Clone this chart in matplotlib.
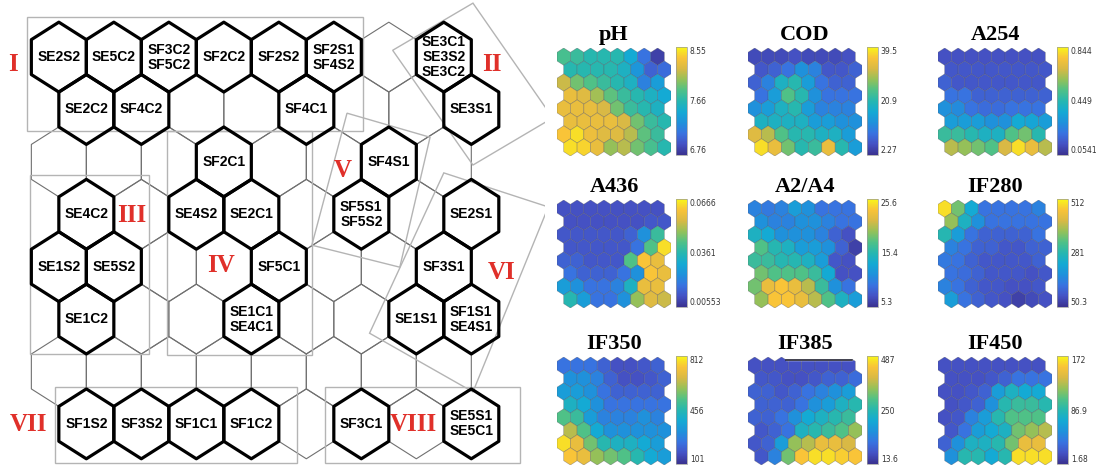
import numpy as np
import matplotlib
matplotlib.use('Agg')
import matplotlib.pyplot as plt
from matplotlib.collections import PolyCollection
from matplotlib.colors import LinearSegmentedColormap, Normalize
from matplotlib.patches import Polygon

# ---- SOM map: 8 x 8 hex grid, row 0 at the top, odd rows shifted right ----
n_rows, n_cols = 8, 8

label_rows = [0, 0, 0, 0, 0, 0, 0,
              1, 1, 1, 1,
              2, 2,
              3, 3, 3, 3, 3,
              4, 4, 4, 4,
              5, 5, 5, 5,
              7, 7, 7, 7, 7, 7]
label_cols = [0, 1, 2, 3, 4, 5, 7,
              0, 1, 4, 7,
              3, 6,
              0, 2, 3, 5, 7,
              0, 1, 4, 7,
              0, 3, 6, 7,
              0, 1, 2, 3, 5, 7]
label_texts = ['SE2S2', 'SE5C2', 'SF3C2\nSF5C2', 'SF2C2', 'SF2S2', 'SF2S1\nSF4S2',
               'SE3C1\nSE3S2\nSE3C2',
               'SE2C2', 'SF4C2', 'SF4C1', 'SE3S1',
               'SF2C1', 'SF4S1',
               'SE4C2', 'SE4S2', 'SE2C1', 'SF5S1\nSF5S2', 'SE2S1',
               'SE1S2', 'SE5S2', 'SF5C1', 'SF3S1',
               'SE1C2', 'SE1C1\nSE4C1', 'SE1S1', 'SF1S1\nSE4S1',
               'SF1S2', 'SF3S2', 'SF1C1', 'SF1C2', 'SF3C1', 'SE5S1\nSE5C1']

# cluster names and where they sit (grid units)
cluster_names = ['I', 'II', 'III', 'IV', 'V', 'VI', 'VII', 'VIII']
cluster_x = [-0.84, 7.87, 1.33, 2.95, 5.16, 8.05, -0.56, 6.44]
cluster_y = [0.15, 0.15, 3.02, 3.97, 2.16, 4.12, 7.02, 7.02]

# cluster outlines (grid units)
cluster_boxes = [
    [(-0.58, -0.76), (5.53, -0.76), (5.53, 1.41), (-0.58, 1.41)],      # I
    [(6.07, -0.13), (7.53, -1.03), (8.98, 1.16), (7.53, 2.06)],        # II
    [(-0.53, 2.25), (1.64, 2.25), (1.64, 5.67), (-0.53, 5.67)],        # III
    [(1.96, 1.41), (4.60, 1.41), (4.60, 5.69), (1.96, 5.69)],          # IV
    [(5.24, 1.07), (6.75, 1.53), (6.20, 4.01), (4.60, 3.59)],          # V
    [(7.00, 2.21), (8.90, 2.86), (7.53, 6.39), (5.65, 5.27)],          # VI
    [(-0.07, 6.30), (4.33, 6.30), (4.33, 7.75), (-0.07, 7.75)],        # VII
    [(4.84, 6.30), (8.38, 6.30), (8.38, 7.75), (4.84, 7.75)],          # VIII
]

# ---- component planes (levels read as fraction of each colour bar) ----
plane_names = ['pH', 'COD', 'A254', 'A436', 'A2/A4', 'IF280', 'IF350', 'IF385', 'IF450']
plane_min = [6.76, 2.27, 0.0541, 0.00553, 5.3, 50.3, 101, 13.6, 1.68]
plane_max = [8.55, 39.5, 0.844, 0.0666, 25.6, 512, 812, 487, 172]
plane_ticks = [['6.76', '7.66', '8.55'], ['2.27', '20.9', '39.5'],
               ['0.0541', '0.449', '0.844'], ['0.00553', '0.0361', '0.0666'],
               ['5.3', '15.4', '25.6'], ['50.3', '281', '512'],
               ['101', '456', '812'], ['13.6', '250', '487'], ['1.68', '86.9', '172']]

ph_levels = [
    [0.58, 0.55, 0.50, 0.50, 0.50, 0.40, 0.20, 0.05],
    [0.50, 0.50, 0.50, 0.50, 0.45, 0.32, 0.15, 0.18],
    [0.78, 0.65, 0.60, 0.55, 0.50, 0.45, 0.25, 0.35],
    [0.85, 0.82, 0.72, 0.62, 0.55, 0.50, 0.45, 0.40],
    [0.85, 0.85, 0.84, 0.80, 0.65, 0.55, 0.50, 0.45],
    [0.85, 0.85, 0.85, 0.85, 0.80, 0.65, 0.55, 0.50],
    [0.90, 0.95, 0.86, 0.82, 0.82, 0.75, 0.62, 0.55],
    [0.95, 0.93, 0.85, 0.70, 0.75, 0.65, 0.58, 0.50],
]
cod_levels = [
    [0.08, 0.08, 0.08, 0.10, 0.08, 0.08, 0.08, 0.10],
    [0.12, 0.15, 0.20, 0.30, 0.25, 0.12, 0.12, 0.15],
    [0.15, 0.25, 0.45, 0.50, 0.35, 0.20, 0.15, 0.15],
    [0.20, 0.35, 0.60, 0.50, 0.30, 0.20, 0.20, 0.20],
    [0.30, 0.35, 0.45, 0.50, 0.35, 0.25, 0.25, 0.25],
    [0.45, 0.45, 0.45, 0.45, 0.35, 0.35, 0.30, 0.30],
    [0.82, 0.75, 0.60, 0.50, 0.50, 0.45, 0.45, 0.35],
    [0.95, 0.85, 0.65, 0.50, 0.55, 0.85, 0.50, 0.35],
]
a254_levels = [
    [0.10, 0.10, 0.10, 0.10, 0.10, 0.10, 0.10, 0.10],
    [0.12, 0.12, 0.12, 0.12, 0.12, 0.12, 0.12, 0.12],
    [0.15, 0.12, 0.12, 0.12, 0.12, 0.12, 0.12, 0.12],
    [0.20, 0.20, 0.15, 0.15, 0.15, 0.15, 0.15, 0.15],
    [0.30, 0.28, 0.20, 0.18, 0.18, 0.20, 0.20, 0.20],
    [0.35, 0.35, 0.35, 0.30, 0.30, 0.40, 0.38, 0.35],
    [0.55, 0.55, 0.50, 0.45, 0.45, 0.60, 0.65, 0.50],
    [0.75, 0.70, 0.65, 0.60, 0.80, 0.95, 0.85, 0.75],
]
a436_levels = [
    [0.10, 0.10, 0.10, 0.10, 0.10, 0.10, 0.10, 0.10],
    [0.10, 0.10, 0.10, 0.10, 0.10, 0.10, 0.12, 0.12],
    [0.12, 0.12, 0.12, 0.12, 0.12, 0.15, 0.30, 0.55],
    [0.12, 0.12, 0.12, 0.12, 0.12, 0.20, 0.60, 0.95],
    [0.15, 0.15, 0.12, 0.12, 0.12, 0.60, 0.90, 0.85],
    [0.20, 0.15, 0.15, 0.15, 0.20, 0.30, 0.90, 0.85],
    [0.35, 0.30, 0.20, 0.20, 0.25, 0.45, 0.85, 0.85],
    [0.50, 0.35, 0.20, 0.20, 0.30, 0.70, 0.82, 0.78],
]
a2a4_levels = [
    [0.25, 0.22, 0.25, 0.35, 0.30, 0.20, 0.20, 0.20],
    [0.30, 0.25, 0.25, 0.30, 0.30, 0.25, 0.20, 0.20],
    [0.45, 0.40, 0.30, 0.30, 0.30, 0.25, 0.15, 0.10],
    [0.60, 0.50, 0.45, 0.35, 0.35, 0.30, 0.15, 0.05],
    [0.55, 0.55, 0.50, 0.50, 0.45, 0.35, 0.12, 0.10],
    [0.65, 0.60, 0.60, 0.60, 0.55, 0.40, 0.10, 0.10],
    [0.65, 0.85, 0.90, 0.85, 0.75, 0.55, 0.30, 0.20],
    [0.70, 0.90, 0.90, 0.85, 0.75, 0.60, 0.45, 0.35],
]
if280_levels = [
    [0.95, 0.65, 0.40, 0.20, 0.20, 0.20, 0.20, 0.25],
    [0.70, 0.45, 0.30, 0.20, 0.20, 0.20, 0.20, 0.20],
    [0.50, 0.35, 0.20, 0.15, 0.15, 0.15, 0.15, 0.20],
    [0.25, 0.20, 0.15, 0.15, 0.12, 0.12, 0.15, 0.15],
    [0.22, 0.20, 0.15, 0.12, 0.12, 0.12, 0.12, 0.15],
    [0.20, 0.18, 0.15, 0.12, 0.12, 0.12, 0.10, 0.12],
    [0.25, 0.20, 0.15, 0.12, 0.12, 0.10, 0.10, 0.12],
    [0.35, 0.20, 0.15, 0.12, 0.10, 0.05, 0.08, 0.10],
]
if350_levels = [
    [0.20, 0.20, 0.20, 0.15, 0.10, 0.10, 0.12, 0.15],
    [0.30, 0.30, 0.25, 0.15, 0.10, 0.10, 0.12, 0.15],
    [0.35, 0.35, 0.30, 0.20, 0.15, 0.15, 0.15, 0.15],
    [0.45, 0.40, 0.30, 0.20, 0.20, 0.20, 0.20, 0.20],
    [0.60, 0.55, 0.35, 0.25, 0.25, 0.25, 0.30, 0.25],
    [0.75, 0.60, 0.40, 0.30, 0.30, 0.30, 0.30, 0.30],
    [0.95, 0.85, 0.65, 0.50, 0.45, 0.45, 0.40, 0.35],
    [0.90, 0.85, 0.70, 0.65, 0.60, 0.50, 0.40, 0.35],
]
if385_levels = [
    [0.10, 0.10, 0.10, 0.10, 0.10, 0.10, 0.10, 0.10],
    [0.12, 0.12, 0.10, 0.10, 0.12, 0.15, 0.15, 0.18],
    [0.15, 0.15, 0.12, 0.15, 0.20, 0.25, 0.30, 0.35],
    [0.15, 0.15, 0.15, 0.20, 0.30, 0.35, 0.45, 0.50],
    [0.15, 0.15, 0.20, 0.30, 0.40, 0.45, 0.50, 0.55],
    [0.12, 0.15, 0.20, 0.45, 0.50, 0.55, 0.60, 0.70],
    [0.12, 0.15, 0.35, 0.70, 0.75, 0.85, 0.85, 0.80],
    [0.12, 0.25, 0.65, 0.90, 0.95, 0.95, 0.92, 0.90],
]
if450_levels = [
    [0.10, 0.10, 0.10, 0.10, 0.10, 0.10, 0.10, 0.10],
    [0.10, 0.10, 0.10, 0.12, 0.15, 0.20, 0.20, 0.20],
    [0.10, 0.10, 0.12, 0.15, 0.35, 0.45, 0.40, 0.40],
    [0.10, 0.12, 0.15, 0.30, 0.50, 0.55, 0.55, 0.50],
    [0.10, 0.12, 0.25, 0.35, 0.50, 0.60, 0.60, 0.60],
    [0.12, 0.20, 0.35, 0.40, 0.45, 0.65, 0.70, 0.75],
    [0.15, 0.30, 0.45, 0.45, 0.50, 0.65, 0.85, 0.85],
    [0.30, 0.50, 0.50, 0.40, 0.50, 0.95, 0.95, 0.95],
]
plane_levels = [ph_levels, cod_levels, a254_levels, a436_levels, a2a4_levels,
                if280_levels, if350_levels, if385_levels, if450_levels]

# parula-like colormap (slightly muted, like the printed figure)
parula = LinearSegmentedColormap.from_list('parula', [
    (0.00, (0.225, 0.195, 0.560)),
    (0.10, (0.270, 0.320, 0.770)),
    (0.20, (0.220, 0.450, 0.880)),
    (0.30, (0.120, 0.570, 0.860)),
    (0.40, (0.080, 0.665, 0.830)),
    (0.50, (0.150, 0.715, 0.690)),
    (0.60, (0.310, 0.755, 0.530)),
    (0.70, (0.580, 0.755, 0.350)),
    (0.80, (0.850, 0.725, 0.270)),
    (0.90, (0.975, 0.765, 0.220)),
    (1.00, (0.970, 0.965, 0.100)),
])


def hex_centers():
    xs, ys = [], []
    for r in range(n_rows):
        for c in range(n_cols):
            xs.append(c + 0.5 * (r % 2))
            ys.append(r)
    return np.array(xs), np.array(ys)


def hexagon(x, y):
    return [(x, y - 2/3), (x + 0.5, y - 1/3), (x + 0.5, y + 1/3),
            (x, y + 2/3), (x - 0.5, y + 1/3), (x - 0.5, y - 1/3)]


W, H = 1106, 471
fig = plt.figure(figsize=(W / 100, H / 100), dpi=100)


def px_axes(left, top, w, h):
    return fig.add_axes([left / W, 1 - (top + h) / H, w / W, h / H])


# ---------- left: labelled SOM ----------
ax = px_axes(0, 0, 545, 471)
ax.set_xlim(-1.07, 8.84)
ax.set_ylim(7.90, -1.09)
ax.axis('off')

cx, cy = hex_centers()
grid = PolyCollection([hexagon(x, y) for x, y in zip(cx, cy)],
                      facecolors='none', edgecolors='#707070', linewidths=0.8)
ax.add_collection(grid)

for box in cluster_boxes:
    ax.add_patch(Polygon(box, closed=True, fill=False, edgecolor='#b4b4b4',
                         linewidth=1.0, zorder=2))

bold = PolyCollection([hexagon(c + 0.5 * (r % 2), r) for r, c in zip(label_rows, label_cols)],
                      facecolors='none', edgecolors='black', linewidths=2.3, zorder=3)
ax.add_collection(bold)

for r, c, t in zip(label_rows, label_cols, label_texts):
    ax.text(c + 0.5 * (r % 2), r, t, ha='center', va='center', fontsize=10,
            fontweight='bold', family='Liberation Sans', linespacing=1.1, zorder=4)

for name, x, y in zip(cluster_names, cluster_x, cluster_y):
    ax.text(x, y, name, ha='center', va='center', fontsize=18, fontweight='bold',
            family='Liberation Serif', color='#e0302a', zorder=5)

# ---------- right: component planes ----------
col_left = [557, 748, 938]
row_top = [48, 200, 357]
for i, name in enumerate(plane_names):
    left, top = col_left[i % 3], row_top[i // 3]
    pax = px_axes(left, top, 114, 108)
    pax.set_xlim(-0.5, 8.0)
    pax.set_ylim(7 + 2/3, -2/3)
    pax.axis('off')
    lv = np.array(plane_levels[i]).ravel()
    vals = plane_min[i] + lv * (plane_max[i] - plane_min[i])
    norm = Normalize(plane_min[i], plane_max[i])
    pc = PolyCollection([hexagon(x, y) for x, y in zip(cx, cy)], array=vals,
                        cmap=parula, norm=norm, edgecolors=(0.3, 0.3, 0.35, 0.45),
                        linewidths=0.45)
    pax.add_collection(pc)
    pax.set_title(name, fontsize=16, fontweight='bold', family='Liberation Serif', pad=6)
    if name == 'IF385':
        pax.fill_between([2.3, 7.25], -0.75, -0.47, color='white', zorder=3, clip_on=False)
        pax.plot([2.3, 7.25], [-0.47, -0.47], color='#202030', lw=1.2, zorder=4,
                 clip_on=False)

    cax = px_axes(left + 119, top - 1, 11, 108)
    mid = (plane_min[i] + plane_max[i]) / 2
    cb = fig.colorbar(pc, cax=cax, ticks=[plane_min[i], mid, plane_max[i]])
    cb.ax.set_yticklabels(plane_ticks[i])
    cb.ax.tick_params(length=0, pad=2, labelsize=5.5, labelcolor='#333333')
    cb.outline.set_linewidth(0.5)
    cb.outline.set_edgecolor('#999999')
    tl = cb.ax.get_yticklabels()
    tl[-1].set_va('top')
    tl[0].set_va('bottom')

fig.savefig('out.png', dpi=100)
